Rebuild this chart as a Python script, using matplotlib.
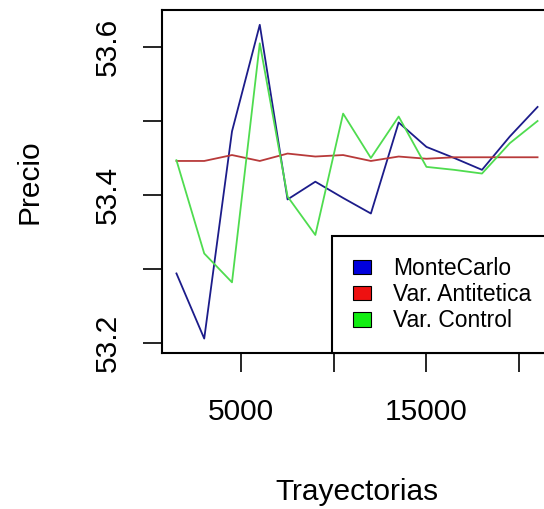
import matplotlib
matplotlib.use("Agg")
import matplotlib.pyplot as plt
from matplotlib.patches import Patch

# Precio estimado segun el numero de trayectorias
trayectorias = [1500, 3000, 4500, 6000, 7500, 9000, 10500, 12000,
                13500, 15000, 16500, 18000, 19500, 21000]
montecarlo = [53.294, 53.206, 53.486, 53.630, 53.394, 53.418, 53.396, 53.375,
              53.498, 53.465, 53.450, 53.434, 53.479, 53.519]
antitetica = [53.446, 53.446, 53.454, 53.446, 53.456, 53.452, 53.454, 53.446,
              53.452, 53.449, 53.451, 53.451, 53.451, 53.451]
control = [53.447, 53.321, 53.282, 53.605, 53.398, 53.346, 53.510, 53.450,
           53.506, 53.438, 53.434, 53.429, 53.470, 53.500]

x_ticks = [5000, 10000, 15000, 20000]
x_labels = ["5000", "", "15000", ""]
y_ticks = [53.2, 53.3, 53.4, 53.5, 53.6]
y_labels = ["53.2", "", "53.4", "", "53.6"]

plt.rcParams['font.family'] = ['Liberation Sans', 'DejaVu Sans']
fs = 21.5

fig = plt.figure(figsize=(5.44, 5.09), dpi=100)
ax = fig.add_axes([162 / 544, 1 - 353 / 509, 390 / 544, 343 / 509])

ax.plot(trayectorias, montecarlo, color='#1c1c8a', lw=1.3)
ax.plot(trayectorias, antitetica, color='#b83a3a', lw=1.3)
ax.plot(trayectorias, control, color='#4fdc4f', lw=1.3)

ax.set_xlim(720, 21780)
ax.set_ylim(53.1865, 53.65)

ax.set_xticks(x_ticks)
ax.set_xticklabels(x_labels)
ax.set_yticks(y_ticks)
ax.set_yticklabels(y_labels, rotation=90, va='center')
ax.tick_params(length=13.5, width=1.2, labelsize=fs, color='black')
ax.tick_params(axis='x', pad=19)
ax.tick_params(axis='y', pad=15.5)
for s in ax.spines.values():
    s.set_linewidth(1.5)

ax.set_xlabel("Trayectorias", fontsize=fs, labelpad=37)
ax.set_ylabel("Precio", fontsize=fs, labelpad=36)

handles = [Patch(facecolor='#0000dd', edgecolor='black', lw=0.8),
           Patch(facecolor='#ee1111', edgecolor='black', lw=0.8),
           Patch(facecolor='#11ee11', edgecolor='black', lw=0.8)]
leg = ax.legend(handles, ["MonteCarlo", "Var. Antitetica", "Var. Control"],
                loc='lower right', bbox_to_anchor=(1, 0), borderaxespad=0,
                fancybox=False, framealpha=1, edgecolor='black',
                fontsize=16.5, handlelength=0.82, handleheight=0.6,
                handletextpad=0.95, labelspacing=0.14, borderpad=0.9)
leg.get_frame().set_linewidth(1.5)

fig.savefig("out.png", dpi=100)
